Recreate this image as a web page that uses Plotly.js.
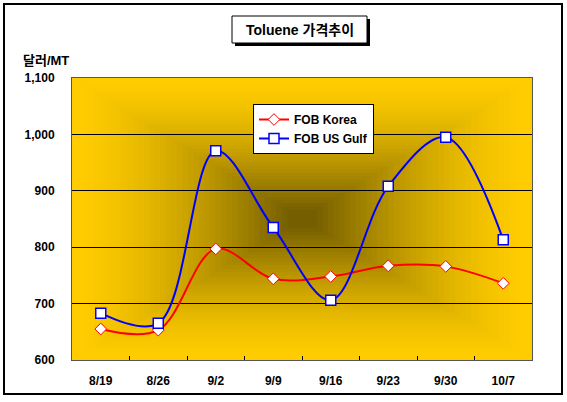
<!DOCTYPE html>
<html>
<head>
<meta charset="utf-8">
<script src="https://cdn.plot.ly/plotly-3.0.1.min.js"></script>
<style>html,body{margin:0;padding:0;background:#fff;}#chart{width:567px;height:402px;}</style>
</head>
<body>
<div id="chart"></div>
<script>
var categories = ['8/19','8/26','9/2','9/9','9/16','9/23','9/30','10/7'];
var fobKorea = [655, 653, 797, 744, 748, 767, 766, 736];
var fobUSGulf = [683, 665, 971, 835, 706, 908, 995, 813];
var yTickVals = [600, 700, 800, 900, 1000, 1100];
var yTickText = ['600', '700', '800', '900', '1,000', '1,100'];

var W = 567, H = 402;
var L = 72, R = 35, T = 78, B = 42;
var pw = W - L - R, ph = H - T - B;
function px(x) { return (x - L) / pw; }
function py(y) { return (H - B - y) / ph; }

var FONT = '"Liberation Sans", Arial, "Noto Sans CJK KR", sans-serif';

var shapes = [];
// concentric rectangular gradient background (Excel "from center")
var N = 40;
var c0 = [255, 204, 0], c1 = [116, 94, 0];
for (var i = 0; i < N; i++) {
  var f = i / N;
  var t = Math.pow(i / (N - 1), 1.5);
  var col = 'rgb(' + Math.round(c0[0] + (c1[0] - c0[0]) * t) + ',' +
    Math.round(c0[1] + (c1[1] - c0[1]) * t) + ',' +
    Math.round(c0[2] + (c1[2] - c0[2]) * t) + ')';
  shapes.push({type: 'rect', xref: 'paper', yref: 'paper', layer: 'below',
    x0: f * 0.48, x1: 1 - f * 0.48, y0: f * 0.48, y1: 1 - f * 0.48,
    fillcolor: col, line: {width: 0}});
}
// outer chart border
shapes.push({type: 'rect', xref: 'paper', yref: 'paper', layer: 'above',
  x0: px(4), x1: px(562), y0: py(394), y1: py(4),
  line: {color: '#000', width: 2}, fillcolor: 'rgba(0,0,0,0)'});
// title shadow
shapes.push({type: 'rect', xref: 'paper', yref: 'paper', layer: 'above',
  x0: px(235), x1: px(370), y0: py(46), y1: py(19),
  line: {width: 0}, fillcolor: '#000'});
// title box
shapes.push({type: 'rect', xref: 'paper', yref: 'paper', layer: 'above',
  x0: px(232), x1: px(367), y0: py(43), y1: py(16),
  line: {color: '#000', width: 1}, fillcolor: '#fff'});

var traces = [
  {x: categories, y: fobKorea, name: 'FOB Korea', type: 'scatter', mode: 'lines+markers',
   line: {color: '#ff0000', width: 2, shape: 'spline', smoothing: 1},
   marker: {symbol: 'diamond', size: 9, color: '#fff', line: {color: '#ff0000', width: 1}}},
  {x: categories, y: fobUSGulf, name: 'FOB US Gulf', type: 'scatter', mode: 'lines+markers',
   line: {color: '#0000ff', width: 2, shape: 'spline', smoothing: 1},
   marker: {symbol: 'square', size: 10, color: '#fff', line: {color: '#0000ff', width: 1.5}}}
];

var layout = {
  width: W, height: H,
  margin: {l: L, r: R, t: T, b: B, pad: 0},
  paper_bgcolor: '#fff',
  plot_bgcolor: 'rgba(0,0,0,0)',
  font: {family: FONT, size: 12, color: '#000'},
  showlegend: true,
  legend: {x: px(253), y: py(104), xanchor: 'left', yanchor: 'top',
    bgcolor: '#fff', bordercolor: '#000', borderwidth: 1,
    font: {family: FONT, size: 12, weight: 'bold'}, tracegroupgap: 0,
    itemwidth: 30},
  xaxis: {type: 'category', tickson: 'boundaries', ticks: 'inside', ticklen: 4,
    tickcolor: '#000', showgrid: false, zeroline: false,
    showline: true, linecolor: '#555', linewidth: 1, mirror: true,
    tickfont: {family: FONT, size: 12, weight: 'bold'}, ticklabelstandoff: 10,
    range: [-0.5, 7.5], fixedrange: true},
  yaxis: {range: [600, 1100], tickvals: yTickVals, ticktext: yTickText,
    showgrid: true, gridcolor: '#000', gridwidth: 1, zeroline: false,
    showline: true, linecolor: '#555', linewidth: 1, mirror: true,
    ticks: '', tickfont: {family: FONT, size: 12, weight: 'bold'},
    ticklabelstandoff: 14, fixedrange: true},
  shapes: shapes,
  annotations: [
    {text: 'Toluene 가격추이', xref: 'paper', yref: 'paper', x: px(299.5), y: py(29.5),
     xanchor: 'center', yanchor: 'middle', showarrow: false,
     font: {family: FONT, size: 14, weight: 'bold'}},
    {text: '달러/MT', xref: 'paper', yref: 'paper', x: px(21), y: py(61),
     xanchor: 'left', yanchor: 'middle', showarrow: false,
     font: {family: FONT, size: 13, weight: 'bold'}}
  ]
};

Plotly.newPlot('chart', traces, layout, {staticPlot: true, displayModeBar: false});
</script>
</body>
</html>
